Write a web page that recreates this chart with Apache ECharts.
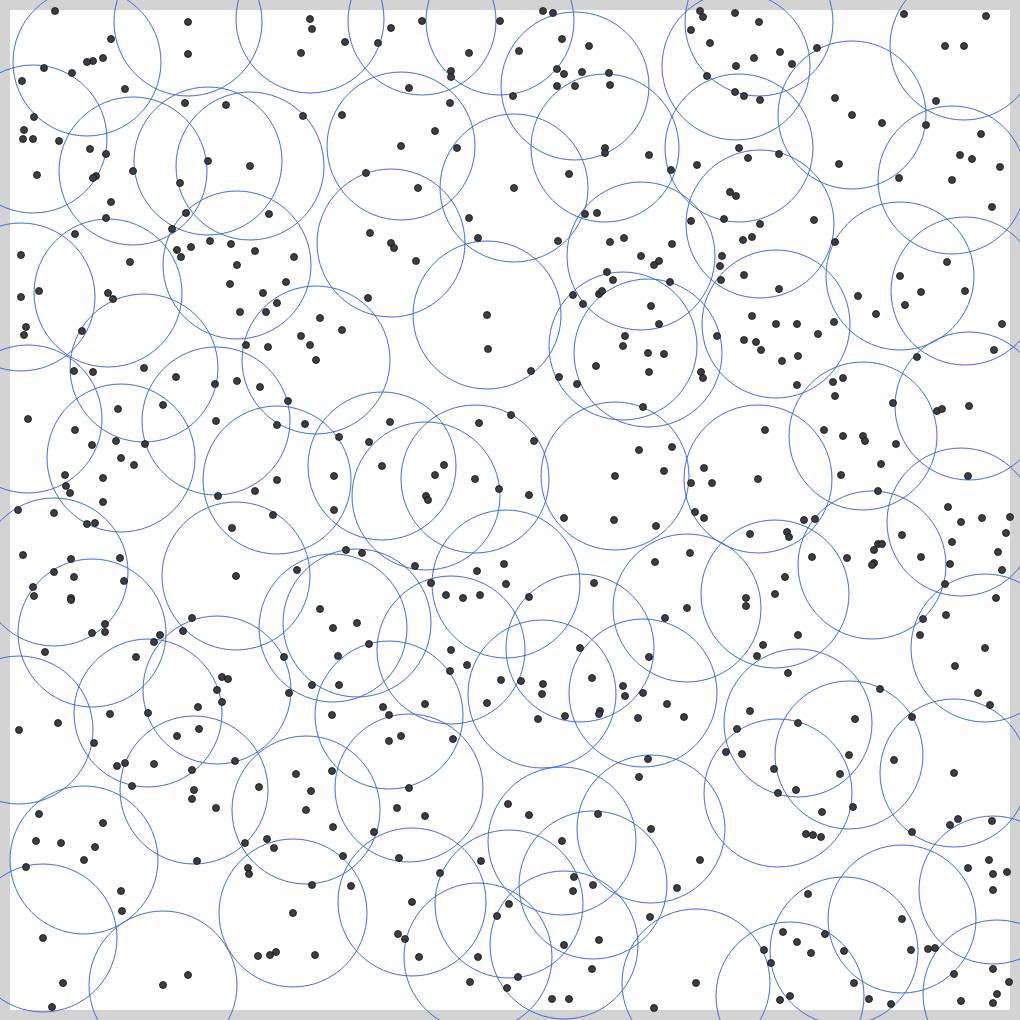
<!DOCTYPE html>
<html>
<head>
<meta charset="utf-8">
<script src="https://cdn.jsdelivr.net/npm/echarts@6/dist/echarts.min.js"></script>
<style>
html,body{margin:0;padding:0;background:#d3d3d3;}
#chart{width:1020px;height:1020px;}
</style>
</head>
<body>
<div id="chart"></div>
<script>
// Sample points (x, y), split in three horizontal bands
var pointsTop = [
[55,11],[188,22],[310,19],[312,29],[111,39],[103,58],[93,61],[87,62],[44,68],[72,73],[188,54],[301,53],[22,81],[125,89],[185,103],[226,105],[303,116],[34,117],[24,130],[23,139],[33,139],[59,141],[90,149],[106,154],[208,161],[250,166],[37,175],[96,176],[93,178],[133,171],[180,183],[111,202],[186,213],[269,214],[106,218],[172,229],[75,234],[210,241],[231,244],[177,250],[191,247],[181,257],[255,251],[294,257],[21,255],[130,262],[237,265],[286,282],[230,284],[39,291],[21,297],[108,293],[113,299],[263,293],[277,303],[240,312],[266,312],[320,318],[26,327],[24,335],[82,331],[301,336],
[543,11],[553,13],[391,28],[422,21],[500,21],[345,42],[378,43],[469,53],[519,51],[562,39],[589,46],[451,71],[451,77],[557,69],[564,74],[582,72],[609,73],[557,86],[575,86],[610,85],[409,88],[513,96],[450,103],[342,115],[435,131],[401,146],[457,148],[605,148],[605,153],[649,155],[671,170],[366,173],[569,174],[418,188],[514,188],[585,214],[597,213],[469,218],[478,238],[558,241],[370,233],[391,243],[394,248],[416,261],[610,242],[624,238],[672,244],[641,256],[654,265],[659,261],[607,272],[613,280],[670,282],[573,295],[599,294],[602,291],[583,304],[651,306],[659,324],[625,336],[368,298],[487,315],[342,330],
[700,11],[703,17],[735,13],[759,22],[691,30],[710,43],[817,48],[780,52],[754,58],[792,64],[736,66],[707,76],[735,92],[744,96],[760,100],[904,14],[986,16],[945,46],[964,46],[936,101],[926,125],[835,98],[852,115],[882,123],[981,134],[960,155],[972,159],[1000,167],[952,180],[899,178],[839,164],[739,148],[748,158],[779,154],[697,165],[730,192],[736,196],[691,221],[724,219],[760,224],[814,220],[743,240],[752,237],[835,242],[992,207],[722,256],[720,266],[721,280],[744,275],[779,289],[947,262],[900,276],[921,292],[965,291],[905,305],[858,296],[876,314],[752,316],[776,324],[797,324],[834,322],[818,334],[1002,324],[717,336],[744,340]
];
var pointsMiddle = [
[310,345],[316,360],[246,345],[268,347],[74,371],[93,372],[144,368],[176,377],[215,384],[237,381],[260,387],[288,401],[305,424],[277,425],[339,437],[28,419],[118,409],[163,405],[216,421],[75,430],[92,445],[116,441],[145,444],[121,458],[134,465],[65,475],[103,478],[66,486],[70,493],[103,502],[334,476],[277,480],[255,491],[218,496],[334,510],[18,510],[54,513],[87,524],[95,523],[273,515],[232,528],[23,555],[71,559],[120,558],[54,572],[74,577],[124,581],[33,587],[34,596],[71,598],[71,600],[236,576],[297,570],[320,609],[333,628],[338,656],[192,618],[183,631],[105,624],[105,632],[92,633],[160,635],[154,642],[45,652],[136,657],[284,657],
[488,349],[531,371],[623,346],[648,353],[664,354],[596,366],[649,372],[559,377],[577,384],[643,407],[390,422],[369,442],[479,423],[511,415],[534,441],[382,466],[444,465],[435,475],[475,479],[499,489],[426,496],[428,500],[529,495],[639,450],[672,447],[615,476],[664,471],[564,518],[614,520],[656,526],[346,550],[362,553],[415,566],[477,571],[504,564],[431,583],[506,584],[446,595],[463,598],[480,595],[529,597],[594,583],[655,562],[665,618],[357,623],[369,644],[451,650],[467,665],[580,648],[649,657],
[756,342],[761,350],[782,361],[798,356],[701,372],[703,378],[797,385],[917,357],[994,350],[833,382],[843,378],[835,396],[893,403],[937,411],[942,409],[969,406],[765,430],[824,430],[843,436],[863,436],[865,441],[896,444],[881,464],[841,475],[878,491],[968,476],[704,468],[691,483],[712,483],[758,479],[695,512],[704,518],[804,520],[815,519],[750,534],[787,532],[789,537],[948,507],[961,522],[982,518],[1010,517],[1006,533],[902,535],[952,542],[878,544],[882,544],[874,550],[690,553],[812,557],[847,558],[921,557],[998,552],[874,563],[872,565],[950,564],[1002,570],[785,577],[775,594],[746,598],[746,606],[687,608],[945,584],[996,598],[946,615],[923,619],[920,635],[798,635],[763,645],[757,656],[985,648],[955,666]
];
var pointsBottom = [
[222,677],[228,679],[217,690],[222,702],[198,707],[199,729],[177,736],[312,685],[289,693],[339,685],[332,715],[19,730],[58,723],[110,714],[148,713],[94,743],[117,766],[125,763],[154,764],[192,770],[235,761],[132,786],[259,787],[296,774],[332,771],[311,791],[306,810],[333,827],[194,790],[192,799],[216,808],[39,814],[103,823],[36,841],[61,843],[95,847],[84,860],[26,867],[197,861],[245,843],[267,839],[274,848],[248,868],[249,874],[312,885],[121,891],[122,911],[293,913],[43,938],[258,956],[270,955],[276,952],[315,955],[188,975],[163,985],[63,983],[52,1007],
[450,671],[501,680],[521,681],[543,684],[542,694],[592,678],[623,686],[625,696],[643,693],[667,704],[638,718],[600,711],[599,714],[565,716],[538,719],[487,703],[425,704],[383,707],[389,715],[401,736],[389,741],[453,739],[648,759],[639,777],[409,788],[397,808],[425,816],[508,804],[529,815],[598,814],[651,829],[562,841],[374,832],[343,856],[399,858],[481,861],[440,873],[351,886],[574,877],[573,891],[593,885],[677,888],[412,902],[509,904],[497,916],[650,917],[398,934],[405,939],[599,940],[564,945],[419,957],[478,957],[592,969],[518,977],[470,982],[507,988],[552,999],[569,999],[654,1008],
[788,673],[880,689],[978,693],[990,705],[684,717],[750,711],[798,723],[855,719],[912,717],[737,729],[726,752],[742,754],[849,755],[894,760],[954,773],[774,769],[840,774],[796,790],[778,793],[822,812],[853,807],[806,834],[813,835],[821,837],[950,825],[958,819],[992,821],[912,832],[700,860],[968,868],[989,860],[993,874],[1007,872],[993,890],[808,894],[902,919],[783,932],[825,934],[797,942],[811,953],[844,951],[911,950],[928,949],[935,948],[764,950],[771,963],[954,974],[993,969],[1009,982],[696,983],[997,994],[993,1003],[961,1001],[854,983],[869,999],[891,1004],[780,1000],[790,996]
];
// Points that carry a neighbourhood circle
var circleCenters = [
[87,62],[188,22],[310,19],[33,139],[133,171],[208,161],[250,166],[237,265],[108,293],[21,297],[144,368],[316,360],[391,243],[401,146],[422,21],[500,21],[575,86],[514,188],[605,148],[641,256],[623,346],[648,353],[487,315],[759,22],[736,66],[739,148],[852,115],[964,46],[952,180],[760,224],[900,276],[965,291],[776,324],
[121,458],[28,419],[216,421],[277,480],[54,572],[92,633],[236,576],[333,628],[357,623],[148,713],[217,690],[19,730],[382,466],[475,479],[426,496],[615,476],[506,584],[451,650],[580,648],[687,608],[542,694],[643,693],[389,715],[863,436],[969,406],[758,479],[872,565],[961,522],[775,594],[985,648],[798,723],
[84,860],[43,938],[163,985],[194,790],[306,810],[293,913],[409,788],[562,841],[651,829],[593,885],[412,902],[509,904],[478,957],[564,945],[696,983],[849,755],[778,793],[954,773],[902,919],[993,890],[844,951],[790,996],[997,994]
];
var CIRCLE_RADIUS = 74;
var X_RANGE = [10, 1010];
var Y_RANGE = [10, 1010];

var allPoints = pointsTop.concat(pointsMiddle, pointsBottom);
var chart = echarts.init(document.getElementById('chart'), null, {renderer: 'canvas'});
chart.setOption({
  backgroundColor: '#d3d3d3',
  animation: false,
  grid: {left: 10, right: 10, top: 10, bottom: 10, show: true, backgroundColor: '#ffffff', borderWidth: 0},
  xAxis: {type: 'value', min: X_RANGE[0], max: X_RANGE[1], show: false},
  yAxis: {type: 'value', min: Y_RANGE[0], max: Y_RANGE[1], inverse: true, show: false},
  series: [
    {
      type: 'custom',
      name: 'circles',
      clip: false,
      z: 2,
      data: circleCenters,
      renderItem: function (params, api) {
        var c = api.coord([api.value(0), api.value(1)]);
        var r = api.size([CIRCLE_RADIUS, CIRCLE_RADIUS])[0];
        return {
          type: 'circle',
          shape: {cx: c[0], cy: c[1], r: r},
          style: {fill: 'none', stroke: '#4169e1', lineWidth: 1}
        };
      }
    },
    {
      type: 'scatter',
      name: 'points',
      clip: false,
      z: 3,
      symbol: 'circle',
      symbolSize: 7,
      data: allPoints,
      itemStyle: {color: '#3c3c44', borderColor: '#111111', borderWidth: 0.8, opacity: 1}
    }
  ]
});
</script>
</body>
</html>
